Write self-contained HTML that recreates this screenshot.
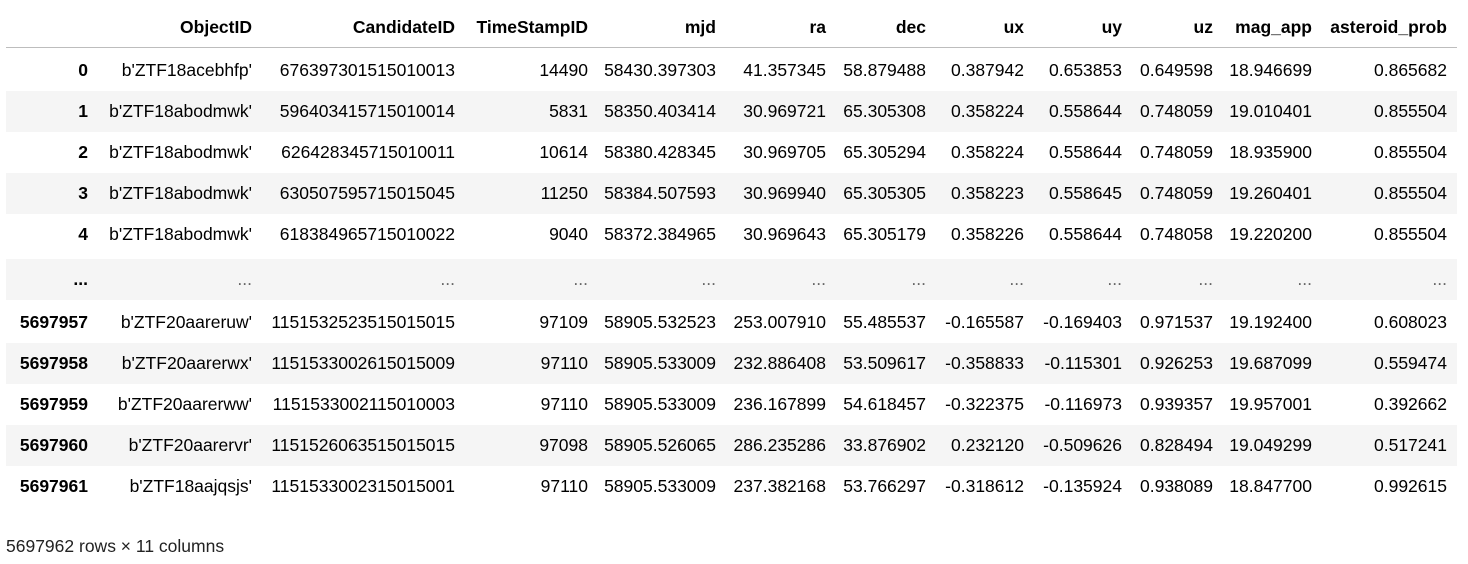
<!DOCTYPE html>
<html><head><meta charset="utf-8">
<style>
body{margin:0;width:1468px;height:564px;background:#fff;font-family:"Liberation Sans",sans-serif;font-size:17.5px;color:#000;position:relative;overflow:hidden}
.c{position:absolute;white-space:nowrap;transform:translate(-100%,-50%);line-height:20px}
.b{font-weight:bold}
.stripe{position:absolute;left:6px;width:1451px;height:41px;background:#f5f5f5}
#hl{position:absolute;left:6px;width:1451px;top:47px;height:1px;background:#bdbdbd}
#foot{position:absolute;left:6px;top:536px;line-height:20px;color:#222}
</style></head>
<body>
<div id="tbl"></div>
<div id="hl"></div>
<div id="foot">5697962 rows × 11 columns</div>
<script>
const headers=["","ObjectID","CandidateID","TimeStampID","mjd","ra","dec","ux","uy","uz","mag_app","asteroid_prob"];
const rows=[
["0","b'ZTF18acebhfp'","676397301515010013","14490","58430.397303","41.357345","58.879488","0.387942","0.653853","0.649598","18.946699","0.865682"],
["1","b'ZTF18abodmwk'","596403415715010014","5831","58350.403414","30.969721","65.305308","0.358224","0.558644","0.748059","19.010401","0.855504"],
["2","b'ZTF18abodmwk'","626428345715010011","10614","58380.428345","30.969705","65.305294","0.358224","0.558644","0.748059","18.935900","0.855504"],
["3","b'ZTF18abodmwk'","630507595715015045","11250","58384.507593","30.969940","65.305305","0.358223","0.558645","0.748059","19.260401","0.855504"],
["4","b'ZTF18abodmwk'","618384965715010022","9040","58372.384965","30.969643","65.305179","0.358226","0.558644","0.748058","19.220200","0.855504"],
["...","...","...","...","...","...","...","...","...","...","...","..."],
["5697957","b'ZTF20aareruw'","1151532523515015015","97109","58905.532523","253.007910","55.485537","-0.165587","-0.169403","0.971537","19.192400","0.608023"],
["5697958","b'ZTF20aarerwx'","1151533002615015009","97110","58905.533009","232.886408","53.509617","-0.358833","-0.115301","0.926253","19.687099","0.559474"],
["5697959","b'ZTF20aarerww'","1151533002115010003","97110","58905.533009","236.167899","54.618457","-0.322375","-0.116973","0.939357","19.957001","0.392662"],
["5697960","b'ZTF20aarervr'","1151526063515015015","97098","58905.526065","286.235286","33.876902","0.232120","-0.509626","0.828494","19.049299","0.517241"],
["5697961","b'ZTF18aajqsjs'","1151533002315015001","97110","58905.533009","237.382168","53.766297","-0.318612","-0.135924","0.938089","18.847700","0.992615"]
];
const colRight=[88,252,455,588,716,826,926,1024,1122,1213,1312,1447];
const rowY=[70,111,152,193,234,279,322,363,404,445,486];
const tbl=document.getElementById('tbl');
headers.forEach((h,j)=>{
  const d=document.createElement('div');
  d.className='c b';
  
  
  d.style.left=colRight[j]+'px';d.style.top='27px';d.textContent=h;tbl.appendChild(d);
});
rows.forEach((r,i)=>{
  if(i%2===1){
    const s=document.createElement('div');
    s.className='stripe';
    
    
    s.style.top=(rowY[i]-20.5)+'px';tbl.appendChild(s);
  }
});
rows.forEach((r,i)=>{
  r.forEach((v,j)=>{
    const d=document.createElement('div');
    d.className='c'+(j===0?' b':'');
    
    
    d.style.left=colRight[j]+'px';d.style.top=rowY[i]+'px';
    if(v==='...'&&j>0)d.style.color='#666';
    d.textContent=v;tbl.appendChild(d);
  });
});
</script>
</body></html>
